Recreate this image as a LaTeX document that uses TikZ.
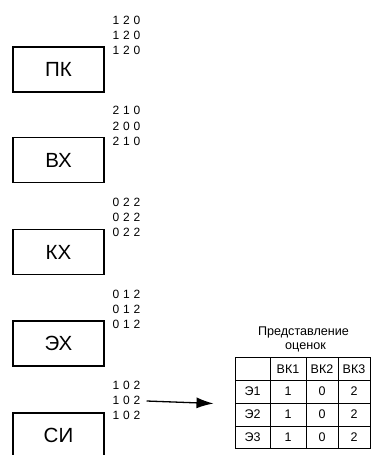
\documentclass[tikz,border=0pt]{standalone}
\usepackage{fontspec}
\setmainfont{Liberation Sans}
\usetikzlibrary{arrows.meta}
\tikzset{
  blk/.style={draw, line width=1.2pt, minimum width=91pt, minimum height=45pt, inner sep=0pt, font=\fontsize{20.5}{22}\selectfont},
  num/.style={inner sep=0pt, anchor=west, font=\fontsize{12}{13}\selectfont},
  cell/.style={inner sep=0pt, font=\fontsize{12.5}{13}\selectfont},
  grid/.style={line width=0.9pt},
  ttl/.style={inner sep=0pt, font=\fontsize{12.6}{14}\selectfont},
  arr/.style={line width=1.3pt, -{Latex[length=17pt,width=11pt]}}
}
\newcommand{\dg}[3]{#1\hspace{3.8pt}#2\hspace{3.8pt}#3}
\begin{document}
\begin{tikzpicture}[x=1pt,y=-1pt]
\clip (0,0) rectangle (371,455);
\fill[white] (0,0) rectangle (371,455);
% blocks
\node[blk] (pk) at (58.5,69.5) {ПК};
\node[blk] (vx) at (58.5,160) {ВХ};
\node[blk] (kx) at (58.5,252) {КХ};
\node[blk] (ex) at (58.5,343.5) {ЭХ};
\node[blk] (si) at (58.5,435.5) {СИ};
% numbers
\node[num] (pk1) at (112.5,20) {\dg120};
\node[num] (pk2) at (112.5,35) {\dg120};
\node[num] (pk3) at (112.5,50) {\dg120};
\node[num] (vx1) at (112.5,110) {\dg210};
\node[num] (vx2) at (112.5,126) {\dg200};
\node[num] (vx3) at (112.5,141) {\dg210};
\node[num] (kx1) at (112.5,202) {\dg022};
\node[num] (kx2) at (112.5,217) {\dg022};
\node[num] (kx3) at (112.5,232) {\dg022};
\node[num] (ex1) at (112.5,294) {\dg012};
\node[num] (ex2) at (112.5,309) {\dg012};
\node[num] (ex3) at (112.5,324) {\dg012};
\node[num] (si1) at (112.5,385) {\dg102};
\node[num] (si2) at (112.5,400) {\dg102};
\node[num] (si3) at (112.5,415) {\dg102};
% title
\node[ttl] (t1) at (303.5,332) {Представление};
\node[ttl] (t2) at (305.5,347.5) {оценок};
% table grid
\node[draw, grid, inner sep=0pt, minimum width=135pt, minimum height=91pt] (tab) at (302.5,402.5) {};
\foreach \x in {270,306,338} \draw[grid] (\x,357) -- (\x,448);
\foreach \y in {380,403,426} \draw[grid] (235,\y) -- (370,\y);
% table cells
\node[cell] (h1) at (288,369) {ВК1};
\node[cell] (h2) at (322,369) {ВК2};
\node[cell] (h3) at (354,369) {ВК3};
\node[cell] (r1) at (252.5,391.5) {Э1};
\node[cell] (r2) at (252.5,414.5) {Э2};
\node[cell] (r3) at (252.5,437) {Э3};
\node[cell] (c11) at (288,391.5) {1};
\node[cell] (c12) at (322,391.5) {0};
\node[cell] (c13) at (354,391.5) {2};
\node[cell] (c21) at (288,414.5) {1};
\node[cell] (c22) at (322,414.5) {0};
\node[cell] (c23) at (354,414.5) {2};
\node[cell] (c31) at (288,437) {1};
\node[cell] (c32) at (322,437) {0};
\node[cell] (c33) at (354,437) {2};
% arrow
\coordinate (tip) at (213.5,403.5);
\draw[arr] ([xshift=6pt,yshift=-1pt]si2.east) -- (tip);
\end{tikzpicture}
\end{document}
